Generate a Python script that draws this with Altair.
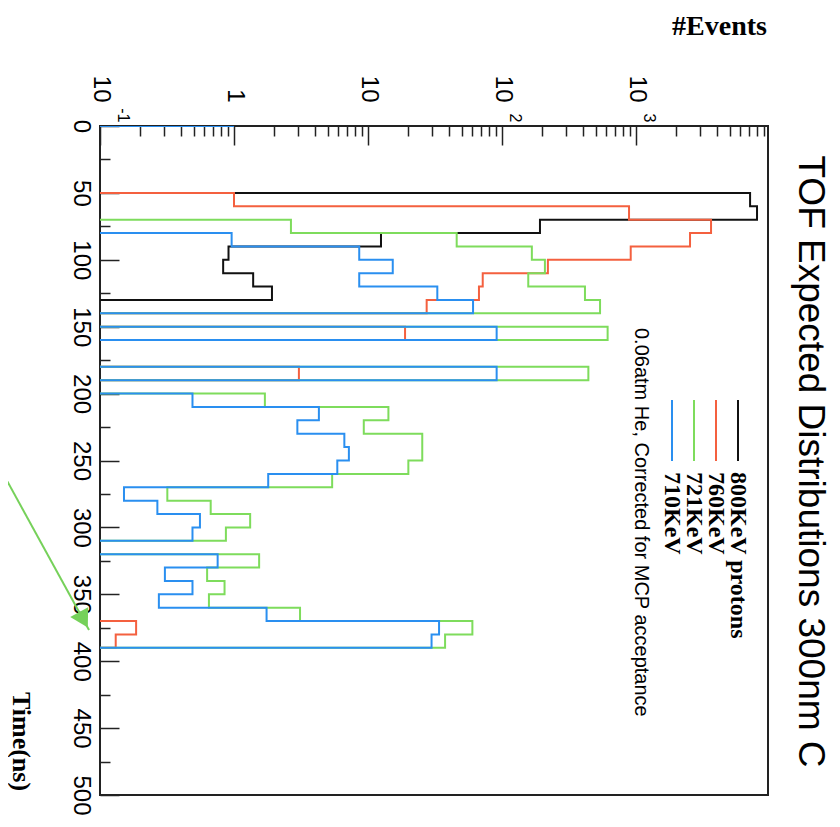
import altair as alt
import pandas as pd

# ---------------- data ----------------
bin_starts = list(range(0, 400, 10))          # 10 ns bins, 0..390
series_names = ["800KeV protons", "760KeV", "721KeV", "710KeV"]
series_colors = ["#111111", "#f4603f", "#7edc5c", "#2a8ff0"]

counts_800 = [0, 0, 0, 0, 0, 7100, 8000, 192, 12.5, 0.91,
              0.83, 1.39, 1.92, 0, 0, 0, 0, 0, 0, 0,
              0, 0, 0, 0, 0, 0, 0, 0, 0, 0,
              0, 0, 0, 0, 0, 0, 0, 0, 0, 0]
counts_760 = [0, 0, 0, 0, 0, 1.0, 887, 3630, 2530, 913,
              220, 71.8, 67.3, 27.4, 0, 18.9, 0, 0, 3.05, 0,
              0, 0, 0, 0, 0, 0, 0, 0, 0, 0,
              0, 0, 0, 0, 0, 0, 0, 0.186, 0.131, 0]
counts_721 = [0, 0, 0, 0, 0, 0, 0, 2.66, 45.9, 167,
              209, 157, 416, 539, 0, 614, 0, 0, 441, 0,
              1.70, 14.2, 9.3, 25.4, 25.4, 20.0, 5.4, 0.318, 0.67, 1.32,
              0.87, 0, 1.54, 0.63, 0.85, 0.65, 3.11, 60.1, 37.6, 0]
counts_710 = [0, 0, 0, 0, 0, 0, 0, 0, 0.96, 8.6,
              15.3, 8.6, 32.9, 60.8, 0, 91.2, 0, 0, 91.2, 0,
              0.49, 4.3, 2.97, 6.66, 7.2, 5.9, 1.80, 0.151, 0.268, 0.557,
              0.49, 0, 0.755, 0.305, 0.49, 0.275, 1.75, 33.9, 29.8, 0]
blue_top_start = 1.0   # short blue stroke along the top frame

x_major = [0.1, 1, 10, 100, 1000]
x_major_base = ["10\u00a0\u00a0", "1", "10", "10", "10"]
x_sup_values = [0.1, 100, 1000]
x_sup_labels = ["-1", "2", "3"]
x_minor = [m * d for d in [0.1, 1, 10, 100, 1000] for m in range(2, 10)]
y_major = list(range(0, 501, 50))
y_minor = list(range(25, 500, 50))

arrow_events = [0.01794, 0.0828]
arrow_time = [255.6, 376.7]
arrow_head_events = [0.0753]
arrow_head_time = [369.1]

note_text = ["0.06atm He, Corrected for MCP acceptance"]
title_text = ["TOF Expected Distributions 300nm C"]

# ---------------- build tables ----------------
FLOOR = 0.05
rows = []
for name, vals in zip(series_names, [counts_800, counts_760, counts_721, counts_710]):
    pts = []
    if name == "710KeV":
        pts.append((0, blue_top_start))
    pts += list(zip(bin_starts, vals))
    pts.append((400, 0))
    for k, (t, v) in enumerate(pts):
        rows.append({"series": name, "time": t, "events": v if v > 0 else FLOOR, "k": k})
df = pd.DataFrame(rows)

W, H = 668, 669
xscale = alt.Scale(type="log", domain=[0.1, 9660], nice=False)
yscale = alt.Scale(domain=[0, 500], reverse=True, nice=False, zero=False)

sans = "Liberation Sans, Arial, Helvetica, DejaVu Sans, sans-serif"
serif = "Liberation Serif, Times New Roman, serif"
TICK = "#222222"


def expr_map(vals, labels):
    e = "''"
    for v, l in reversed(list(zip(vals, labels))):
        e = f"(datum.value == {v} ? '{l}' : {e})"
    return e


def axis_layer(xaxis, yaxis):
    return alt.Chart(df).mark_point(opacity=0).encode(
        x=alt.X("events:Q", scale=xscale, axis=xaxis),
        y=alt.Y("time:Q", scale=yscale, axis=yaxis),
    )


label_layer = axis_layer(
    alt.Axis(orient="top", values=x_major, labelExpr=expr_map(x_major, x_major_base),
             labelAngle=90, labelAlign="right", labelBaseline="middle", labelPadding=24,
             labelFont=sans, labelFontSize=24, labelColor="black", labelFlush=False,
             labelOverlap=False, ticks=False, tickSize=0, domain=False, grid=False,
             title="#Events", titleFont=serif, titleFontWeight="bold", titleFontSize=28,
             titleColor="black", titleAngle=0, titleAlign="center", titleBaseline="middle",
             titleX=619, titleY=-100),
    alt.Axis(orient="left", values=y_major, labelAngle=90, labelAlign="center",
             labelBaseline="top", labelPadding=8, labelFont=sans, labelFontSize=24,
             labelColor="black", labelFlush=False, labelOverlap=False, ticks=False,
             tickSize=0, domain=False, grid=False, title="Time(ns)", titleFont=serif,
             titleFontWeight="bold", titleFontSize=26, titleColor="black", titleAngle=90,
             titleAlign="center", titleBaseline="middle", titleX=-80, titleY=615),
)

sup_layer = axis_layer(
    alt.Axis(orient="top", values=x_sup_values, labelExpr=expr_map(x_sup_values, x_sup_labels),
             labelAngle=90, labelAlign="right", labelBaseline="middle", labelPadding=4,
             labelFont=sans, labelFontSize=16, labelColor="black", labelFlush=False,
             labelOverlap=False,
             labelOffset={"condition": {"test": "datum.value < 0.5", "value": 22}, "value": 12},
             ticks=False, tickSize=0, domain=False, grid=False, title=""),
    None,
)

major_ticks = axis_layer(
    alt.Axis(orient="bottom", offset=-H, values=x_major, tickSize=19, tickWidth=1.5,
             tickColor=TICK, labels=False, domain=False, grid=False, title=""),
    alt.Axis(orient="right", offset=-W, values=y_major, tickSize=19, tickWidth=1.5,
             tickColor=TICK, labels=False, domain=False, grid=False, title=""),
)
minor_ticks = axis_layer(
    alt.Axis(orient="bottom", offset=-H, values=x_minor, tickSize=10, tickWidth=1.5,
             tickColor=TICK, labels=False, domain=False, grid=False, title=""),
    alt.Axis(orient="right", offset=-W, values=y_minor, tickSize=10, tickWidth=1.5,
             tickColor=TICK, labels=False, domain=False, grid=False, title=""),
)

line_layers = []
for name, col in zip(series_names, series_colors):
    line_layers.append(
        alt.Chart(df).transform_filter(alt.datum.series == name)
        .mark_line(interpolate="step-before", strokeWidth=2, color=col, clip=True)
        .encode(
            x=alt.X("events:Q", scale=xscale, axis=None),
            y=alt.Y("time:Q", scale=yscale, axis=None),
            order=alt.Order("k:Q"),
        )
    )

legend_df = pd.DataFrame({"series": series_names, "row": list(range(len(series_names)))})
color_enc = alt.Color("series:N", scale=alt.Scale(domain=series_names, range=series_colors), legend=None)
legend_rules = (
    alt.Chart(legend_df).transform_calculate(lx="638 - 22*datum.row")
    .mark_rule(strokeWidth=2)
    .encode(x=alt.X("lx:Q", scale=None), y=alt.value(274), y2=alt.value(335), color=color_enc)
)
legend_text = (
    alt.Chart(legend_df).transform_calculate(lx="638 - 22*datum.row")
    .mark_text(angle=90, align="left", baseline="middle", font=serif, fontWeight="bold",
               fontSize=24, color="black")
    .encode(x=alt.X("lx:Q", scale=None), y=alt.value(346), text="series:N")
)
note = (
    alt.Chart(pd.DataFrame({"note": note_text}))
    .mark_text(angle=90, align="left", baseline="middle", font=sans, fontSize=20, color="black")
    .encode(x=alt.value(541), y=alt.value(202), text="note:N")
)
# chart title drawn as rotated text at the right of the frame
title_mark = (
    alt.Chart(pd.DataFrame({"title": title_text}))
    .mark_text(angle=90, align="center", baseline="alphabetic", font=sans, fontSize=37,
               color="black")
    .encode(x=alt.value(W + 31), y=alt.value(H / 2 + 1), text="title:N")
)

GREEN_ARROW = "#76d15a"
arrow_line = (
    alt.Chart(pd.DataFrame({"events": arrow_events, "time": arrow_time}))
    .mark_line(color=GREEN_ARROW, strokeWidth=2)
    .encode(x=alt.X("events:Q", scale=xscale, axis=None), y=alt.Y("time:Q", scale=yscale, axis=None))
)
arrow_head = (
    alt.Chart(pd.DataFrame({"events": arrow_head_events, "time": arrow_head_time}))
    .mark_point(shape="triangle-down", filled=True, size=420, angle=331, color=GREEN_ARROW, opacity=1)
    .encode(x=alt.X("events:Q", scale=xscale, axis=None), y=alt.Y("time:Q", scale=yscale, axis=None))
)

chart = (
    alt.layer(label_layer, sup_layer, major_ticks, minor_ticks, *line_layers,
              legend_rules, legend_text, note, title_mark, arrow_line, arrow_head)
    .resolve_axis(x="independent", y="independent")
    .properties(
        width=W, height=H,
        autosize=alt.AutoSizeParams(type="none"),
        padding={"left": 92, "top": 118, "right": 64, "bottom": 24},
        background="white",
    )
    .configure_view(stroke="#222222", strokeWidth=2)
)

chart.save("out.html", embed_options={"renderer": "svg", "actions": False})
